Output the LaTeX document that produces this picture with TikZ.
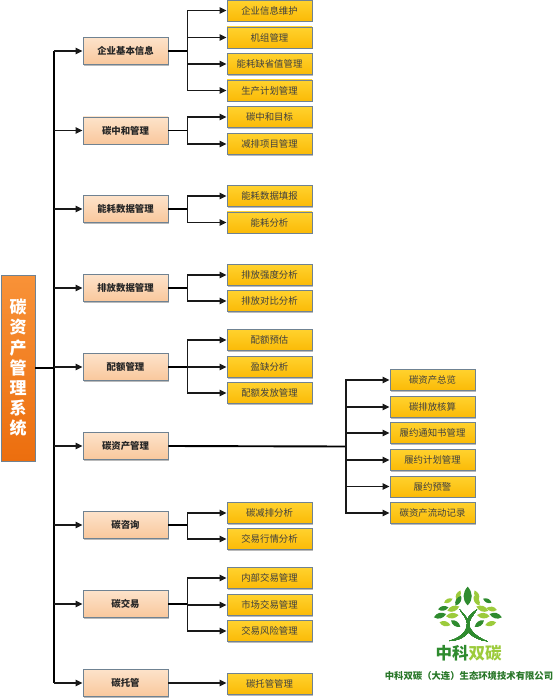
\documentclass[tikz,border=0pt]{standalone}
\usepackage{fontspec}
\setmainfont{Noto Sans CJK SC}
\usetikzlibrary{shadows,arrows.meta,calc}
\definecolor{edgeblue}{HTML}{6F8292}
\definecolor{logodark}{HTML}{2E8B2E}
\definecolor{logolight}{HTML}{9CCB3B}
\definecolor{midtop}{HTML}{FDE3CA}
\definecolor{midbot}{HTML}{F9C79C}
\definecolor{leaftop}{HTML}{FFD22E}
\definecolor{leafbot}{HTML}{FBBA06}
\definecolor{roottop}{HTML}{F89238}
\definecolor{rootbot}{HTML}{EC6E0E}
\tikzset{
  base/.style={draw=edgeblue,line width=0.9pt,inner sep=0pt,anchor=center,
    drop shadow={shadow xshift=1.3pt,shadow yshift=-1.3pt,fill=black!45,opacity=.6}},
  midbox/.style={base,minimum width=85pt,minimum height=27pt,top color=midtop,bottom color=midbot,font=\bfseries\fontsize{9.4}{11}\selectfont,text=black!85},
  leafbox/.style={base,minimum width=85pt,minimum height=21pt,top color=leaftop,bottom color=leafbot,font=\fontsize{9.4}{11}\selectfont,text=black!75},
  rootbox/.style={base,minimum width=34pt,minimum height=186pt,top color=roottop,bottom color=rootbot},
  roottext/.style={text=white,inner sep=0pt,font=\bfseries\fontsize{17}{17}\selectfont,align=center},
  conn/.style={draw=black!90,line width=1.3pt,-{Triangle[length=7pt,width=6.5pt]}},
  stem/.style={draw=black,line width=1.9pt},
  trunkline/.style={draw=black,line width=1.5pt},
}
\newcommand{\lf}[5]{\fill[#5,shift={(#1,#2)},rotate=#3] (-#4,0) .. controls (-#4*.4,-#4*.62) and (#4*.4,-#4*.55) .. (#4,0) .. controls (#4*.4,#4*.55) and (-#4*.4,#4*.62) .. (-#4,0) -- cycle;}
\begin{document}
\begin{tikzpicture}[x=1pt,y=-1pt]
\useasboundingbox (0,0) rectangle (554,700);
\fill[white] (0,0) rectangle (554,700);
% root
\node[rootbox] (root) at (18,368) {};
\node[roottext] (roott) at (root.center) {碳\\[3.2pt]资\\[3.2pt]产\\[3.2pt]管\\[3.2pt]理\\[3.2pt]系\\[3.2pt]统};
% middle
\foreach \n/\y/\t in {m1/51/企业基本信息,m2/130.5/碳中和管理,m3/209/能耗数据管理,m4/288/排放数据管理,m5/367/配额管理,m6/446/碳资产管理,m7/525/碳咨询,m8/604/碳交易,m9/683/碳托管}
  \node[midbox] (\n) at (125.5,\y) {\t};
% leaves
\foreach \n/\y/\t in {a1/10.5/企业信息维护,a2/37.5/机组管理,a3/64/能耗缺省值管理,a4/90.5/生产计划管理,b1/117/碳中和目标,b2/144/减排项目管理,c1/196/能耗数据填报,c2/222.5/能耗分析,d1/275/排放强度分析,d2/301/排放对比分析,e1/340/配额预估,e2/367/盈缺分析,e3/393/配额发放管理,g1/513/碳减排分析,g2/539/交易行情分析,h1/578/内部交易管理,h2/605/市场交易管理,h3/631/交易风险管理,i1/684/碳托管管理}
  \node[leafbox] (\n) at (269.5,\y) {\t};
\foreach \n/\y/\t in {f1/380/碳资产总览,f2/407/碳排放核算,f3/433/履约通知书管理,f4/460/履约计划管理,f5/486.5/履约预警,f6/513/碳资产流动记录}
  \node[leafbox] (\n) at (432.5,\y) {\t};
% trunk
\coordinate (tk) at (54,368);
\draw[stem] (root.east |- tk) -- (tk);
\draw[trunkline] (tk |- m1) -- (tk |- m9);
\foreach \m in {m1,m2,m3,m4,m5,m6,m7,m8,m9}
  \draw[conn] (tk |- \m) -- (\m.west);
% branches
\foreach \m/\ls in {m1/{a1,a2,a3,a4},m2/{b1,b2},m3/{c1,c2},m4/{d1,d2},m5/{e1,e2,e3},m7/{g1,g2},m8/{h1,h2,h3}}{
  \coordinate (br) at ($(\m.east)+(19,0)$);
  \draw[stem] (\m.east) -- (br);
  \foreach \l in \ls \draw[conn] (br) |- (\l.west);
}
\draw[conn] (m9.east) -- (i1.west |- m9.east);
\coordinate (bf) at (346,446.5);
\draw[stem] (m6.east) -- (bf);
\foreach \l in {f1,f2,f3,f4,f5,f6} \draw[conn] (bf) |- (\l.west);
% logo
\begin{scope}[shift={(425,580)},x=.3333pt,y=-.3333pt]
\foreach \x/\y/\a/\s/\c in {128/48/90/28/logodark,100/45/65/15/logolight,155/45/115/15/logolight,
  100/62/60/17/logodark,155/62/120/17/logolight,70/62/25/14/logolight,187/62/155/14/logodark,
  55/85/10/16/logodark,200/87/170/16/logolight,85/86/20/19/logolight,172/86/160/19/logolight,
  45/107/15/19/logodark,212/107/165/19/logodark,82/107/5/19/logolight,175/107/175/19/logolight,
  60/131/-15/17/logolight,197/131/195/17/logolight,92/131/-35/17/logodark,163/131/215/17/logodark}
  \lf{\x}{\y}{\a}{\s}{\c}
\fill[logodark] (104,88) .. controls (115,110) and (135,118) .. (122,150) .. controls (112,168) and (90,178) .. (72,183) .. controls (100,182) and (118,172) .. (130,158) .. controls (145,172) and (165,182) .. (188,184) .. controls (165,176) and (142,160) .. (133,140) .. controls (128,120) and (145,108) .. (156,88) .. controls (140,100) and (130,108) .. (128,118) .. controls (122,108) and (112,98) .. (104,88) -- cycle;
\end{scope}
\node[font=\bfseries\fontsize{16.5}{18}\selectfont,inner sep=0pt] (lg) at (468.5,653.5) {\textcolor{logodark}{中科}\textcolor{logolight}{双碳}};
\node[font=\bfseries\fontsize{9.35}{11}\selectfont,text=logodark!85!black,inner sep=0pt] (co) at (469,676) {中科双碳（大连）生态环境技术有限公司};
\end{tikzpicture}
\end{document}
